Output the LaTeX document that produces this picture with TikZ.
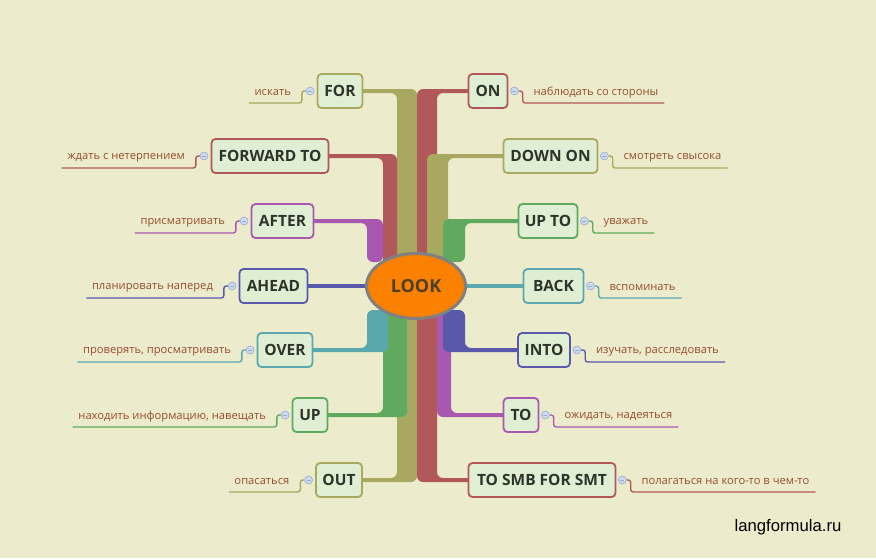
\documentclass[tikz,border=0pt]{standalone}
\usepackage{fontspec}
\setmainfont{Open Sans}
\newfontfamily\wmfont{Liberation Sans}
\usetikzlibrary{calc,shapes.geometric}
\definecolor{bgc}{RGB}{236,236,204}
\definecolor{boxfill}{RGB}{224,238,211}
\definecolor{boxtext}{RGB}{45,52,42}
\definecolor{lblcol}{RGB}{150,78,48}
\definecolor{colO}{RGB}{168,168,96}
\definecolor{colR}{RGB}{176,88,90}
\definecolor{colP}{RGB}{168,88,176}
\definecolor{colG}{RGB}{96,170,96}
\definecolor{colB}{RGB}{90,88,170}
\definecolor{colT}{RGB}{90,168,172}
\definecolor{lookfill}{RGB}{250,128,0}
\definecolor{lookdraw}{RGB}{128,128,128}
\definecolor{looktext}{RGB}{80,62,45}
\definecolor{btnfill}{RGB}{205,218,240}
\definecolor{btndraw}{RGB}{150,170,205}
\pgfdeclarelayer{back}
\pgfdeclarelayer{bars}
\pgfsetlayers{back,bars,main}
\tikzset{
  box/.style={draw, line width=1.8pt, rounded corners=4pt, fill=boxfill,
    minimum height=34pt, inner sep=0pt, text=boxtext,
    font=\bfseries\fontsize{15.5}{18}\selectfont},
  btn/.style={circle, draw=btndraw, fill=btnfill, line width=0.6pt,
    minimum size=8pt, inner sep=0pt,
    path picture={\draw[btndraw, line width=0.7pt]
      ([xshift=-2pt]path picture bounding box.center) --
      ([xshift=2pt]path picture bounding box.center);}},
  lbl/.style={inner sep=0pt, text=lblcol, font=\fontsize{11.2}{13}\selectfont},
  ul/.style={line width=1.4pt, rounded corners=2.5pt},
  barr/.style={rounded corners=6pt},
}
% left-side labelled node: id, color, label
\newcommand\Llabel[3]{%
  \node[btn] (#1b) at ($(#1.west)+(-6.5,0)$) {};
  \node[lbl, anchor=east] (#1t) at ($(#1b.center)+(-19,1.5)$) {#3};
  \draw[ul, draw=#2] (#1b.west) -- ++(-4,0) -- ++(0,12) -- ($(#1t.west)+(-5.5,10.5)$);
}
\newcommand\Rlabel[3]{%
  \node[btn] (#1b) at ($(#1.east)+(6,0)$) {};
  \node[lbl, anchor=west] (#1t) at ($(#1b.center)+(19,1.5)$) {#3};
  \draw[ul, draw=#2] (#1b.east) -- ++(4,0) -- ++(0,12) -- ($(#1t.east)+(6,10.5)$);
}
% bars: color, box, ly, xa, xb, yend
\newcommand\barU[6]{%
  \fill[#1, barr] ($(#2.center)+(0,-2)$) -- (#5,{#3-2}) -- (#5,#6) -- (#4,#6)
    -- (#4,{#3+2}) -- ($(#2.center)+(0,2)$) -- cycle;}
\newcommand\barUR[6]{%
  \fill[#1, barr] ($(#2.center)+(0,-2)$) -- (#4,{#3-2}) -- (#4,#6) -- (#5,#6)
    -- (#5,{#3+2}) -- ($(#2.center)+(0,2)$) -- cycle;}
\newcommand\barD[6]{%
  \fill[#1, barr] ($(#2.center)+(0,2)$) -- (#5,{#3+2}) -- (#5,#6) -- (#4,#6)
    -- (#4,{#3-2}) -- ($(#2.center)+(0,-2)$) -- cycle;}
\newcommand\barDR[6]{%
  \fill[#1, barr] ($(#2.center)+(0,2)$) -- (#4,{#3+2}) -- (#4,#6) -- (#5,#6)
    -- (#5,{#3-2}) -- ($(#2.center)+(0,-2)$) -- cycle;}
\begin{document}
\begin{tikzpicture}[x=1pt,y=-1pt]
\begin{pgfonlayer}{back}
\fill[bgc] (0,0) rectangle (876,558);
\end{pgfonlayer}
\useasboundingbox (0,0) rectangle (876,558);

% centre
\node[ellipse, draw=lookdraw, line width=3pt, fill=lookfill, minimum width=99pt,
  minimum height=65pt, inner sep=0pt, text=looktext,
  font=\bfseries\fontsize{18}{20}\selectfont] (look) at (416,286) {LOOK};

% left boxes
\node[box, draw=colO, minimum width=45pt]  (for)     at (340,91)  {FOR};
\node[box, draw=colR, minimum width=117pt] (forward) at (270,156) {FORWARD TO};
\node[box, draw=colP, minimum width=62pt]  (after)   at (282.5,221) {AFTER};
\node[box, draw=colB, minimum width=68pt]  (ahead)   at (273.5,286) {AHEAD};
\node[box, draw=colT, minimum width=55pt]  (over)    at (285,350) {OVER};
\node[box, draw=colG, minimum width=35pt]  (up)      at (310,415) {UP};
\node[box, draw=colO, minimum width=46pt]  (out)     at (339,480) {OUT};
% right boxes
\node[box, draw=colR, minimum width=39pt]  (on)      at (488,91)  {ON};
\node[box, draw=colO, minimum width=94pt]  (downon)  at (550.5,156) {DOWN ON};
\node[box, draw=colG, minimum width=59pt]  (upto)    at (548,221) {UP TO};
\node[box, draw=colT, minimum width=60pt]  (back)    at (553.5,286) {BACK};
\node[box, draw=colB, minimum width=52pt]  (into)    at (544,350) {INTO};
\node[box, draw=colP, minimum width=35pt]  (to)      at (521,415) {TO};
\node[box, draw=colR, minimum width=147pt] (tosmb)   at (542,480) {TO SMB FOR SMT};

% connectors (branches)
\begin{pgfonlayer}{bars}
\barU{colO}{for}{91}{397}{417}{286}
\barU{colR}{forward}{156}{383}{397}{286}
\barU{colP}{after}{221}{367}{383}{262}
\barUR{colR}{on}{91}{417}{437}{286}
\barUR{colO}{downon}{156}{427}{448}{286}
\barUR{colG}{upto}{221}{443}{465}{262}
\barD{colO}{out}{480}{397}{417}{286}
\barD{colG}{up}{415}{383}{407}{290}
\barD{colT}{over}{350}{367}{388}{310}
\barDR{colR}{tosmb}{480}{417}{437}{286}
\barDR{colP}{to}{415}{437}{451}{286}
\barDR{colB}{into}{350}{443}{465}{310}
\draw[colB, line width=4pt] (ahead.center) -- (look.center);
\draw[colT, line width=4pt] (look.center) -- (back.center);
\end{pgfonlayer}

% labels
\Llabel{for}{colO}{искать}
\Llabel{forward}{colR}{ждать с нетерпением}
\Llabel{after}{colP}{присматривать}
\Llabel{ahead}{colB}{планировать наперед}
\Llabel{over}{colT}{проверять, просматривать}
\Llabel{up}{colG}{находить информацию, навещать}
\Llabel{out}{colO}{опасаться}
\Rlabel{on}{colR}{наблюдать со стороны}
\Rlabel{downon}{colO}{смотреть свысока}
\Rlabel{upto}{colG}{уважать}
\Rlabel{back}{colT}{вспоминать}
\Rlabel{into}{colB}{изучать, расследовать}
\Rlabel{to}{colP}{ожидать, надеяться}
\Rlabel{tosmb}{colR}{полагаться на кого-то в чем-то}

\node[inner sep=0pt, font=\wmfont\fontsize{16.7}{18}\selectfont] (wm) at (788,527) {langformula.ru};
\end{tikzpicture}
\end{document}
